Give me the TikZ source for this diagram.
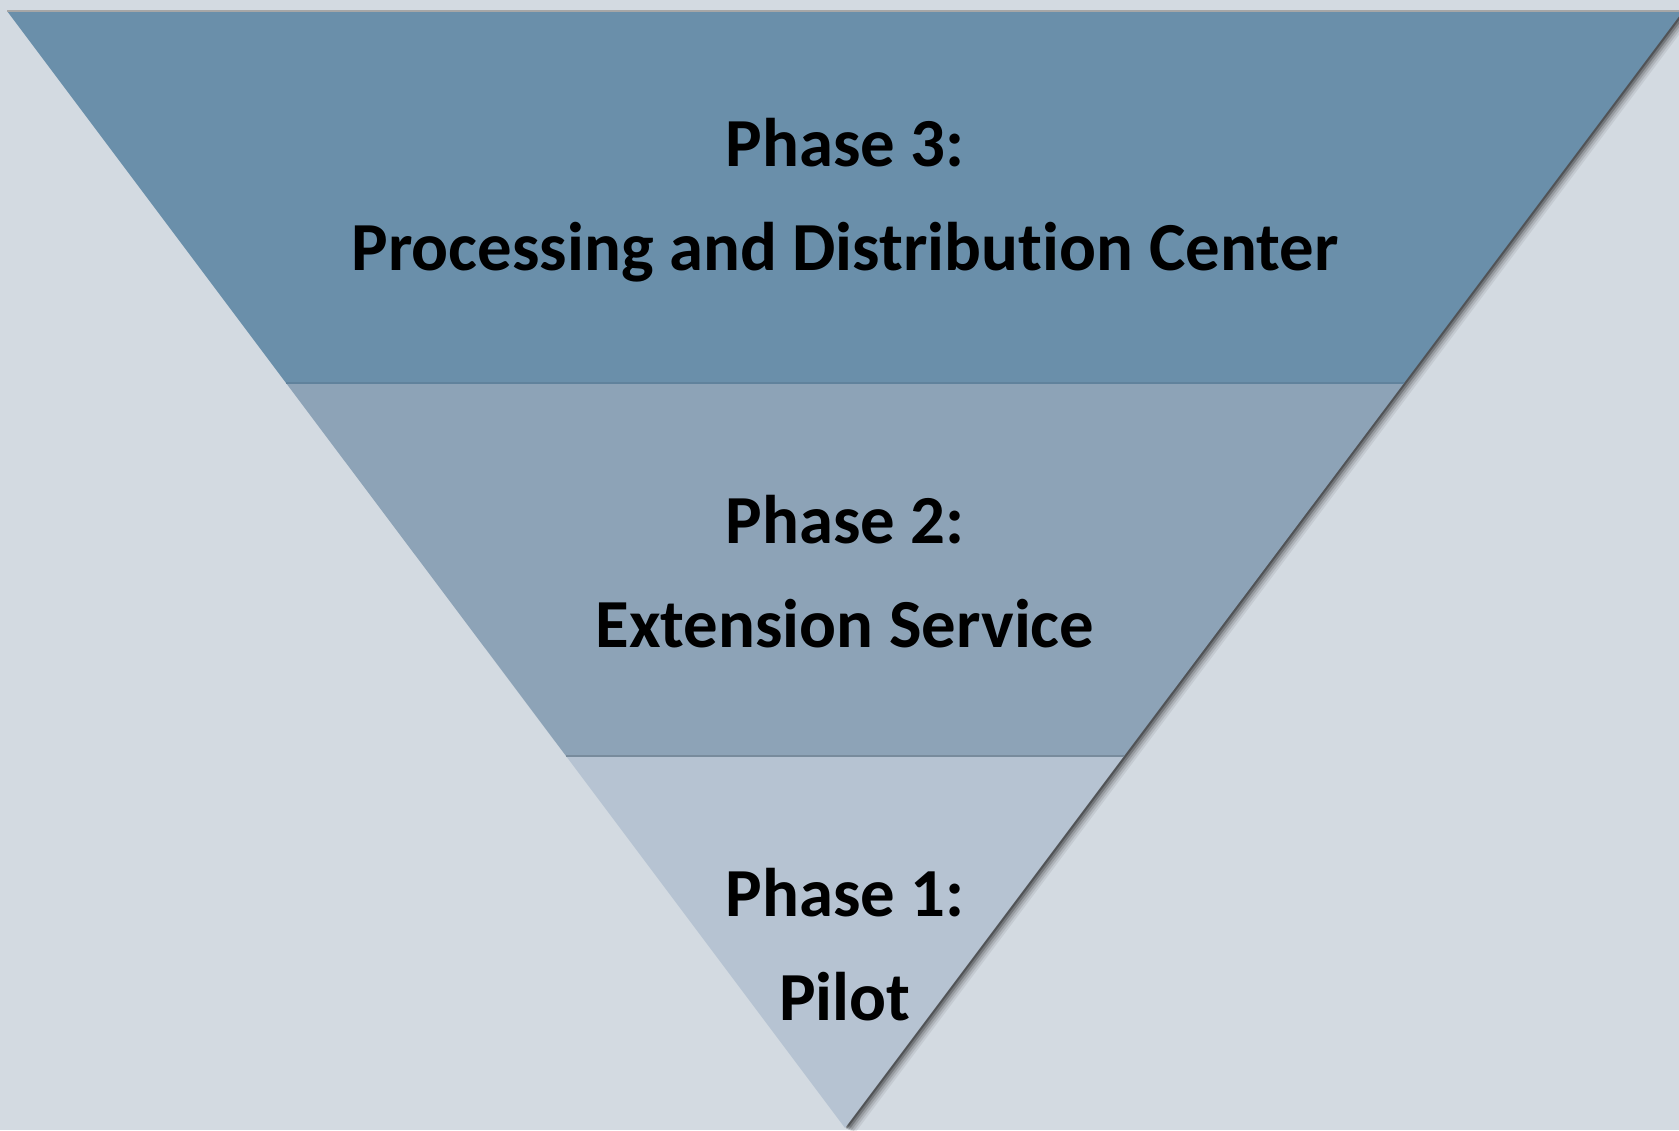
\documentclass[tikz,border=0pt]{standalone}
\usepackage{fontspec}
\setmainfont[Ligatures=NoCommon]{Carlito}
\usetikzlibrary{calc,positioning}
\definecolor{bgcol}{RGB}{211,218,225}
\definecolor{topband}{RGB}{106,143,170}
\definecolor{midband}{RGB}{141,163,183}
\definecolor{lowband}{RGB}{182,195,210}
\definecolor{seamcol}{RGB}{96,130,156}
\tikzset{
    band/.style={draw=none},
    seam/.style={draw=seamcol, line width=1.2pt},
    phasetext/.style={
        font=\fontsize{34.4}{52}\selectfont\bfseries,
        align=center,
        text=black,
        inner sep=0pt
    }
}

\begin{document}
\begin{tikzpicture}[x=0.5pt,y=0.5pt]
    \useasboundingbox (0,0) rectangle (1679,1130);
    \clip (0,0) rectangle (1679,1130);
    \fill[bgcol] (0,0) rectangle (1679,1130);

    % -- corners of the funnel -- %
    \coordinate (tl) at (7,1119);
    \coordinate (tr) at (1683,1119);
    \coordinate (apex) at (845,2);
    \coordinate (l2) at (286,747);
    \coordinate (r2) at (1404,747);
    \coordinate (l1) at (566,374);
    \coordinate (r1) at (1124,374);

    % -- soft shadow -- %
    \foreach \d/\o in {10/0.07,8/0.1,6/0.14,4/0.22,2/0.3}
        \fill[black, opacity=\o]
            ([shift={(\d,-\d/2)}]tl) -- ([shift={(\d,-\d/2)}]tr)
            -- ([shift={(\d,-\d/2)}]apex) -- cycle;

    % -- bands -- %
    \fill[band, topband] (tl) -- (tr) -- (r2) -- (l2) -- cycle;
    \fill[band, midband] (l2) -- (r2) -- (r1) -- (l1) -- cycle;
    \fill[band, lowband] (l1) -- (r1) -- (apex) -- cycle;
    \draw[seam] (l2) -- (r2);
    \draw[seam, draw=midband!85!black] (l1) -- (r1);
    \draw[draw=gray!70, line width=0.8pt] (tl) -- (tr);

    % -- labels -- %
    \node[phasetext] (phase3) at (845,930)
        {Phase 3:\\Processing and Distribution Center};
    \node[phasetext] (phase2) at (845,558)
        {Phase 2:\\Extension Service};
    \node[phasetext] (phase1) at (845,185)
        {Phase 1:\\Pilot};
\end{tikzpicture}
\end{document}
